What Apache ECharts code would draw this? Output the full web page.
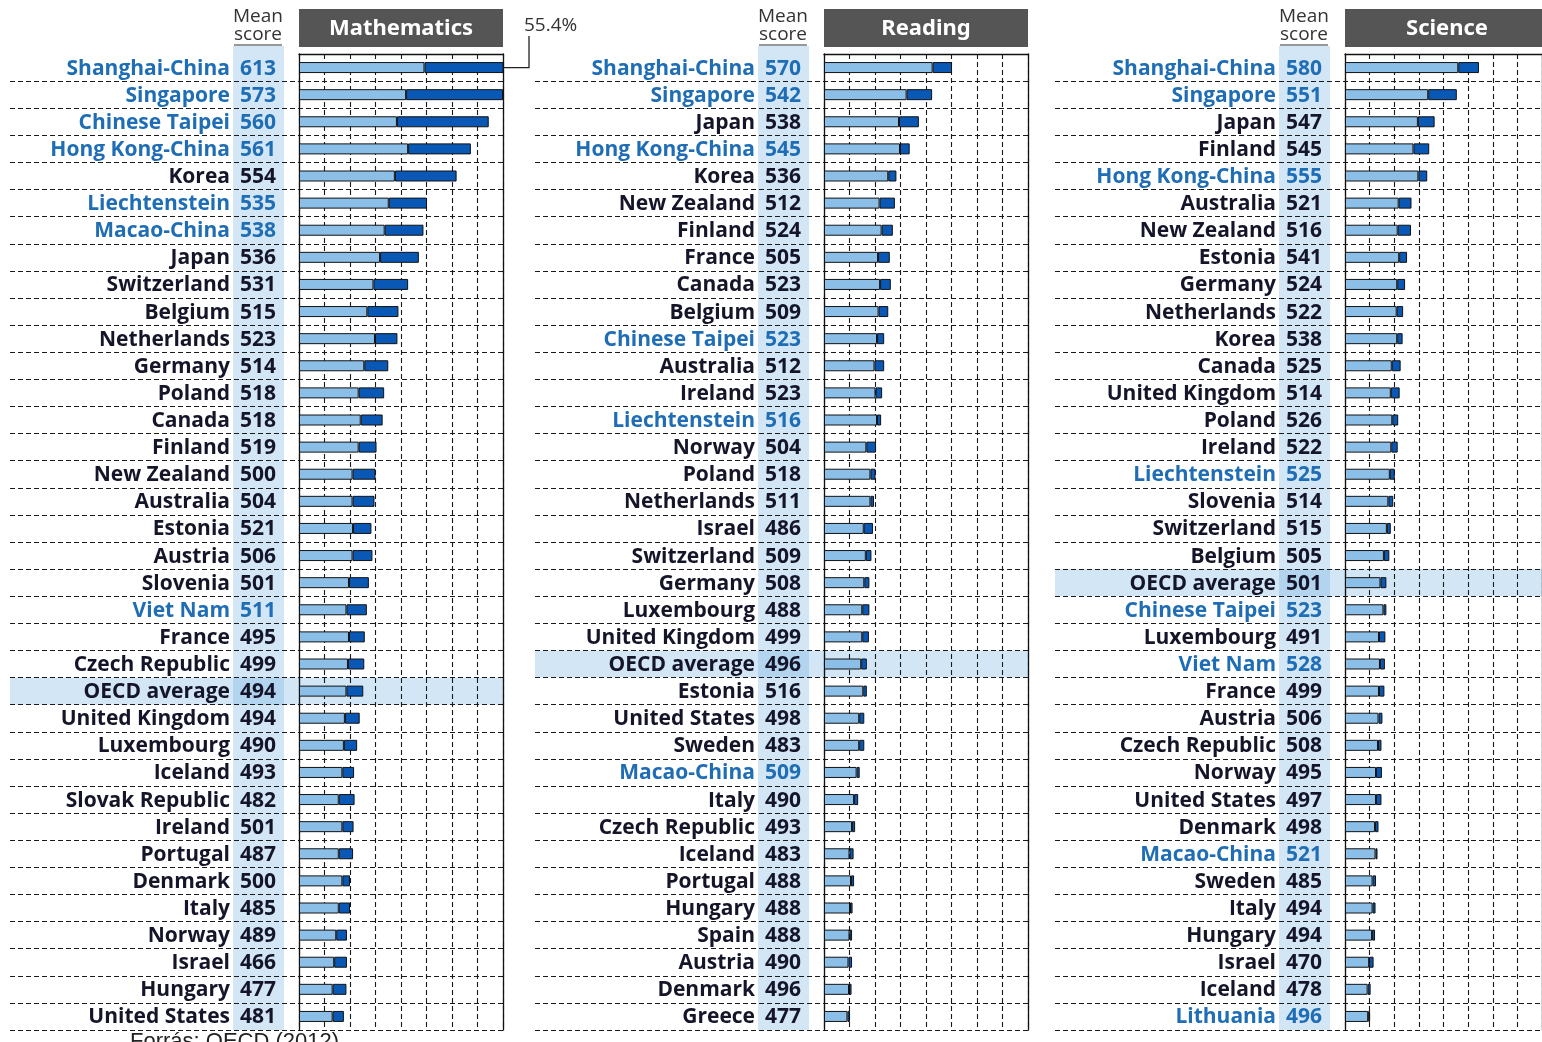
<!DOCTYPE html>
<html><head><meta charset="utf-8">
<script src="https://cdn.jsdelivr.net/npm/echarts@6/dist/echarts.min.js"></script>
<style>html,body{margin:0;padding:0;background:#fff}#c{width:1542px;height:1042px}</style>
</head><body><div id="c"></div>
<script>
// ---------- DATA ----------
const panelTitles = ['Mathematics', 'Reading', 'Science'];
const partners = ['Shanghai-China','Singapore','Chinese Taipei','Hong Kong-China','Liechtenstein','Macao-China','Viet Nam','Lithuania'];
const axisMin = 0, axisMax = 40, axisStep = 5;

const mathCountries = ['Shanghai-China','Singapore','Chinese Taipei','Hong Kong-China','Korea','Liechtenstein','Macao-China','Japan','Switzerland','Belgium','Netherlands','Germany','Poland','Canada','Finland','New Zealand','Australia','Estonia','Austria','Slovenia','Viet Nam','France','Czech Republic','OECD average','United Kingdom','Luxembourg','Iceland','Slovak Republic','Ireland','Portugal','Denmark','Italy','Norway','Israel','Hungary','United States'];
const mathScores = [613,573,560,561,554,535,538,536,531,515,523,514,518,518,519,500,504,521,506,501,511,495,499,494,494,490,493,482,501,487,500,485,489,466,477,481];
const mathLevel5 = [24.6,21.0,19.2,21.4,18.8,17.6,16.8,15.9,14.6,13.4,14.9,12.8,11.7,12.1,11.7,10.5,10.5,10.6,10.5,9.8,9.3,9.8,9.6,9.3,9.0,8.8,8.5,7.8,8.5,7.8,8.5,7.8,7.3,6.9,6.6,6.6];
const mathLevel6 = [30.8,19.0,18.0,12.3,12.1,7.5,7.6,7.6,6.8,6.1,4.4,4.7,5.0,4.3,3.5,4.5,4.3,3.6,3.9,3.9,4.0,3.1,3.2,3.3,2.9,2.6,2.3,3.1,2.2,2.8,1.5,2.2,2.1,2.5,2.7,2.2];

const readCountries = ['Shanghai-China','Singapore','Japan','Hong Kong-China','Korea','New Zealand','Finland','France','Canada','Belgium','Chinese Taipei','Australia','Ireland','Liechtenstein','Norway','Poland','Netherlands','Israel','Switzerland','Germany','Luxembourg','United Kingdom','OECD average','Estonia','United States','Sweden','Macao-China','Italy','Czech Republic','Iceland','Portugal','Hungary','Spain','Austria','Denmark','Greece'];
const readScores = [570,542,538,545,536,512,524,505,523,509,523,512,523,516,504,518,511,486,509,508,488,499,496,516,498,483,509,490,493,483,488,488,488,490,496,477];
const readLevel5 = [21.3,16.2,14.7,14.9,12.6,10.9,11.3,10.6,11.0,10.7,10.4,9.9,10.1,10.4,8.3,9.1,9.1,7.8,8.2,7.9,7.5,7.5,7.3,7.7,6.9,6.9,6.4,5.9,5.5,5.0,5.3,5.1,5.0,4.8,4.9,4.6];
const readLevel6 = [3.8,5.0,3.9,1.9,1.6,3.0,2.2,2.3,2.1,1.9,1.4,1.9,1.3,0.8,1.9,1.0,0.7,1.8,1.1,1.0,1.4,1.3,1.1,0.7,1.0,1.0,0.6,0.8,0.6,0.8,0.6,0.5,0.5,0.7,0.5,0.5];

const sciCountries = ['Shanghai-China','Singapore','Japan','Finland','Hong Kong-China','Australia','New Zealand','Estonia','Germany','Netherlands','Korea','Canada','United Kingdom','Poland','Ireland','Liechtenstein','Slovenia','Switzerland','Belgium','OECD average','Chinese Taipei','Luxembourg','Viet Nam','France','Austria','Czech Republic','Norway','United States','Denmark','Macao-China','Sweden','Italy','Hungary','Israel','Iceland','Lithuania'];
const sciScores = [580,551,547,545,555,521,516,541,524,522,538,525,514,526,522,525,514,515,505,501,523,491,528,499,506,508,495,497,498,521,485,494,494,470,478,496];
const sciLevel5 = [23.0,16.9,14.8,13.9,14.9,10.9,10.7,11.0,10.6,10.5,10.6,9.5,9.3,9.6,9.4,9.1,8.8,8.5,7.9,7.2,7.8,6.9,7.1,6.9,6.8,6.7,6.3,6.3,6.1,6.2,5.6,5.6,5.5,4.9,4.6,4.7];
const sciLevel6 = [4.2,5.8,3.4,3.2,1.8,2.6,2.7,1.6,1.6,1.3,1.1,1.8,1.8,1.2,1.3,1.0,1.0,0.8,1.1,1.2,0.6,1.3,1.0,1.1,0.8,0.7,1.2,1.1,0.7,0.4,0.7,0.6,0.6,0.9,0.6,0.4];

const sourceNote = 'Forrás: OECD (2012)';

// ---------- LAYOUT / STYLE ----------
const panels = [
  {title: panelTitles[0], cats: mathCountries, scores: mathScores, l5: mathLevel5, l6: mathLevel6},
  {title: panelTitles[1], cats: readCountries, scores: readScores, l5: readLevel5, l6: readLevel6},
  {title: panelTitles[2], cats: sciCountries, scores: sciScores, l5: sciLevel5, l6: sciLevel6}
];
const BAR_LEFT = [299, 824, 1345];
const ROW_LEFT = [10, 535, 1055];
const BAR_W = 204, TOP = 54, H = 976;
const FONT = '"Open Sans"';
const FS = 21;
const DARK = '#15152a', BLUE = '#1e6db5';
const LIGHT_BAR = '#8cbfe7', DARK_BAR = '#0a58b5';
const dash = {type: [5, 3], color: '#1a1a1a', width: 1.1};

const grids = [], xAxes = [], yAxes = [], series = [];
panels.forEach((p, i) => {
  const L = BAR_LEFT[i];
  grids.push({left: ROW_LEFT[i], top: TOP, width: L + BAR_W - ROW_LEFT[i], height: H});
  grids.push({left: L, top: TOP, width: BAR_W, height: H});
  const gRow = 2 * i, gBar = 2 * i + 1;
  xAxes.push({gridIndex: gRow, type: 'value', min: 0, max: 1, show: false});
  xAxes.push({gridIndex: gBar, type: 'value', min: axisMin, max: axisMax, interval: axisStep, position: 'top',
    axisLine: {show: true, onZero: false, lineStyle: {color: '#111', width: 1.3}},
    axisTick: {show: false}, axisLabel: {show: false},
    splitLine: {show: true, lineStyle: dash}});
  yAxes.push({gridIndex: gRow, type: 'category', data: p.cats, inverse: true,
    axisLine: {show: false}, axisTick: {show: false}, axisLabel: {show: false},
    splitLine: {show: true, interval: (idx) => idx > 0, lineStyle: dash}});
  const yBar = yAxes.length;
  const base = {fontFamily: FONT, fontWeight: 'bold', fontSize: FS};
  yAxes.push({gridIndex: gBar, type: 'category', data: p.cats, inverse: true, position: 'left',
    axisLine: {show: true, onZero: false, lineStyle: {color: '#111', width: 1.3}},
    axisTick: {show: false},
    axisLabel: {
      margin: 16,
      formatter: (v, idx) => {
        const part = partners.includes(v);
        return '{' + (part ? 'pn' : 'n') + '|' + v + '}{' + (part ? 'ps' : 's') + '|' + p.scores[idx] + '}';
      },
      rich: {
        n: Object.assign({}, base, {color: DARK, padding: [2, 3, 0, 0]}),
        pn: Object.assign({}, base, {color: BLUE, padding: [2, 3, 0, 0]}),
        s: Object.assign({}, base, {color: DARK, width: 50, align: 'center', padding: [2, 0, 0, 0]}),
        ps: Object.assign({}, base, {color: BLUE, width: 50, align: 'center', padding: [2, 0, 0, 0]})
      }
    },
    splitLine: {show: false}});
  yAxes.push({gridIndex: gBar, type: 'category', data: p.cats, inverse: true, position: 'right',
    axisLine: {show: true, onZero: false, lineStyle: {color: '#111', width: 1.3}},
    axisTick: {show: false}, axisLabel: {show: false}, splitLine: {show: false}});
  const common = {type: 'bar', xAxisIndex: gBar, yAxisIndex: yBar, stack: 'top' + i, barWidth: 11,
    z: 5, clip: true, animation: false};
  series.push(Object.assign({}, common, {name: 'Level 5', data: p.l5,
    itemStyle: {color: LIGHT_BAR, borderColor: '#111', borderWidth: 1}}));
  series.push(Object.assign({}, common, {name: 'Level 6', data: p.l6,
    itemStyle: {color: DARK_BAR, borderColor: '#111', borderWidth: 1}}));
});

const chart = echarts.init(document.getElementById('c'), null, {renderer: 'canvas'});
chart.setOption({
  backgroundColor: '#fff',
  animation: false,
  grid: grids, xAxis: xAxes, yAxis: yAxes, series: series
});

// ---------- DECORATION (computed from the axes) ----------
const graphics = [];
const rowH = H / 36;
const colFill = 'rgba(100,170,222,0.29)';
const ctr = {align: 'center', verticalAlign: 'middle', textAlign: 'center', textVerticalAlign: 'middle'};
panels.forEach((p, i) => {
  const L = BAR_LEFT[i];
  const cx = L - 41;
  graphics.push({type: 'rect', z: 10, shape: {x: L, y: 9, width: BAR_W, height: 38}, style: {fill: '#555555'}});
  graphics.push({type: 'text', z: 11, x: L + BAR_W / 2, y: 29,
    style: Object.assign({text: p.title, fill: '#fff', font: 'bold 22px "Noto Sans"', shadowBlur: 3, shadowColor: 'rgba(255,255,255,0.5)'}, ctr)});
  graphics.push({type: 'text', z: 11, x: cx, y: 17,
    style: Object.assign({text: 'Mean', fill: '#333', font: '19px "Open Sans"'}, ctr)});
  graphics.push({type: 'text', z: 11, x: cx, y: 35,
    style: Object.assign({text: 'score', fill: '#333', font: '19px "Open Sans"'}, ctr)});
  graphics.push({type: 'line', z: 11, shape: {x1: cx - 24, y1: 45, x2: cx + 24, y2: 45}, style: {stroke: '#333', lineWidth: 1.2}});
  graphics.push({type: 'rect', z: -2, shape: {x: L - 66, y: 46, width: 51, height: TOP + H - 46}, style: {fill: colFill}});
  const oy = chart.convertToPixel({gridIndex: 2 * i + 1}, [0, 'OECD average'])[1];
  graphics.push({type: 'rect', z: -2, shape: {x: ROW_LEFT[i], y: oy - rowH / 2, width: L + BAR_W - ROW_LEFT[i], height: rowH},
    style: {fill: colFill}});
});
const top0 = chart.convertToPixel({gridIndex: 1}, [axisMax, mathCountries[0]]);
const total0 = (mathLevel5[0] + mathLevel6[0]).toFixed(1) + '%';
graphics.push({type: 'polyline', z: 11, shape: {points: [[top0[0], top0[1]], [top0[0] + 26, top0[1]], [top0[0] + 26, 36]]},
  style: {stroke: '#222', lineWidth: 1.3, fill: null}});
graphics.push({type: 'text', z: 11, x: top0[0] + 21, y: 26,
  style: {text: total0, fill: '#333', font: '19px "Open Sans"', align: 'left', verticalAlign: 'middle', textAlign: 'left', textVerticalAlign: 'middle'}});
graphics.push({type: 'text', z: 12, x: 130, y: 1031,
  style: {text: sourceNote, fill: '#222', font: '22px "Liberation Sans"', align: 'left', verticalAlign: 'top', textAlign: 'left', textVerticalAlign: 'top'}});

chart.setOption({graphic: {elements: graphics}});
</script>
</body></html>
